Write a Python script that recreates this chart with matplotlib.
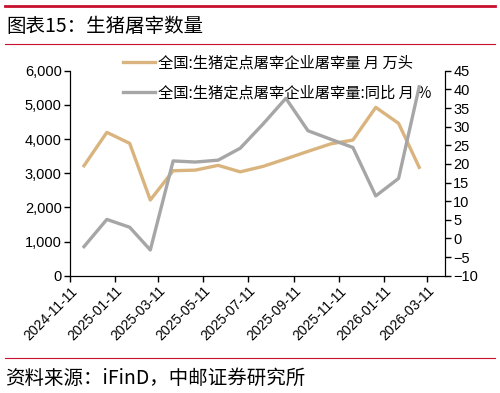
import pandas as pd
import matplotlib.pyplot as plt
import matplotlib.dates as mdates
from matplotlib.ticker import FuncFormatter, MultipleLocator

plt.rcParams['font.family'] = ['Liberation Sans', 'Noto Sans CJK SC', 'DejaVu Sans']

# =====================================================
# DATA
# =====================================================

months = pd.date_range("2024-11-30", "2026-02-28", freq="ME")

slaughter_wan = [3219, 4196, 3874, 2215, 3073, 3090, 3230, 3040,
                 3200, 3420, 3640, 3860, 3971, 4928, 4460, 3172]

yoy_pct = [-2.2, 5.1, 3.0, -3.1, 20.8, 20.5, 21.0, 24.2,
           30.7, 37.6, 28.9, 26.6, 24.4, 11.4, 16.1, 40.7]

tick_dates = pd.to_datetime([
    "2024-11-11", "2025-01-11", "2025-03-11", "2025-05-11", "2025-07-11",
    "2025-09-11", "2025-11-11", "2026-01-11", "2026-03-11",
])

label_a = "全国:生猪定点屠宰企业屠宰量 月 万头"
label_b = "全国:生猪定点屠宰企业屠宰量:同比 月 %"

orange = "#DAB47E"
grey = "#A6A6A6"
cjk = ['Noto Sans CJK SC', 'DejaVu Sans']

# =====================================================
# FIGURE
# =====================================================

fig = plt.figure(figsize=(5.0, 3.93), dpi=100)
ax = fig.add_axes([0.14, 0.2985, 0.75, 0.5215])
ax2 = ax.twinx()

l1, = ax.plot(months, slaughter_wan, color=orange, lw=2.4, label=label_a)
l2, = ax2.plot(months, yoy_pct, color=grey, lw=2.4, label=label_b)

ax.set_ylim(0, 6000)
ax.yaxis.set_major_locator(MultipleLocator(1000))
ax.yaxis.set_major_formatter(FuncFormatter(lambda v, p: f"{int(v):,}"))
ax2.set_ylim(-10, 45)
ax2.yaxis.set_major_locator(MultipleLocator(5))
ax2.yaxis.set_major_formatter(FuncFormatter(lambda v, p: f"{int(v)}".replace("-", "\u2212")))

ax.set_xlim(pd.Timestamp("2024-11-11"), pd.Timestamp("2026-04-04"))
ax.set_xticks(tick_dates)
ax.xaxis.set_major_formatter(mdates.DateFormatter("%Y-%m-%d"))
for lab in ax.get_xticklabels():
    lab.set_rotation(45)
    lab.set_ha("right")
    lab.set_rotation_mode("anchor")

for a in (ax, ax2):
    a.spines["top"].set_visible(False)
    a.tick_params(labelsize=10.5, length=4, width=1, direction="out", pad=2)
ax.tick_params(axis="x", labelsize=10)

leg = ax.legend(handles=[l1, l2], loc="upper left",
                bbox_to_anchor=(117 / 500, 1 - 48 / 393), bbox_transform=fig.transFigure,
                frameon=False, handlelength=2.1, handletextpad=0.2, labelspacing=0.85,
                borderaxespad=0, prop={'family': cjk, 'size': 11})

# =====================================================
# TITLE / SOURCE / RULES
# =====================================================

fig.text(0.012, 0.932, "图表15：生猪屠宰数量", fontsize=14, family=cjk, va="center")
fig.text(0.01, 0.038, "资料来源：iFinD，中邮证券研究所", fontsize=14, family=cjk, va="center")

fig.add_artist(plt.Line2D([0.01, 0.99], [0.985, 0.985], color="#C8102E", lw=2.0))
fig.add_artist(plt.Line2D([0.01, 0.99], [0.887, 0.887], color="#C8102E", lw=0.8))
fig.add_artist(plt.Line2D([0.01, 0.99], [0.09, 0.09], color="#C8102E", lw=0.8))

plt.savefig("out.png", dpi=100)
